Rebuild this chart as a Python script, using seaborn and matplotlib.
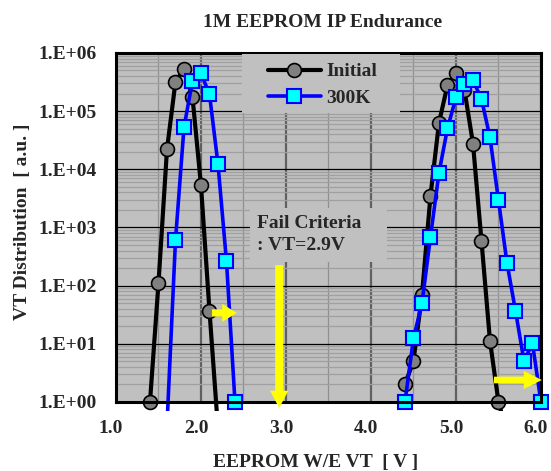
import numpy as np
import pandas as pd
import matplotlib
matplotlib.use("Agg")
import matplotlib.pyplot as plt
import matplotlib.transforms as mtransforms
import seaborn as sns
from matplotlib.patches import Rectangle
from matplotlib.ticker import FixedLocator, LogLocator, FuncFormatter, NullFormatter, MultipleLocator

# ---------------- data ----------------
init_left_vt = [1.4, 1.5, 1.6, 1.7, 1.8, 1.9, 2.0, 2.1, 2.2]
init_left_cnt = [1.0, 110, 22000, 320000, 530000, 175000, 5300, 37, 0.35]
init_right_vt = [4.4, 4.5, 4.6, 4.7, 4.8, 4.9, 5.0, 5.1, 5.2, 5.3, 5.4, 5.5, 5.6]
init_right_cnt = [2.0, 5.1, 69, 3500, 63000, 280000, 460000, 230000, 27700, 590, 11.3, 1.0, 0.3]

k300_left_vt = [1.6, 1.7, 1.8, 1.9, 2.0, 2.1, 2.2, 2.3, 2.4]
k300_left_cnt = [0.4, 605, 52500, 332000, 446000, 196000, 12300, 262, 1.0]
k300_right_vt = [4.4, 4.5, 4.6, 4.7, 4.8, 4.9, 5.0, 5.1, 5.2, 5.3, 5.4, 5.5, 5.6, 5.7, 5.8, 5.9, 6.0]
k300_right_cnt = [1.0, 12.4, 50, 690, 8700, 50500, 172000, 290000, 340000, 162000, 35400,
                  2950, 247, 37, 5.1, 10.2, 1.0]

series_names = ["Initial", "300K"]
x_ticks = [1.0, 2.0, 3.0, 4.0, 5.0, 6.0]
y_ticks = [1e0, 1e1, 1e2, 1e3, 1e4, 1e5, 1e6]

title = "1M EEPROM IP Endurance"
xlabel = "EEPROM W/E VT  [ V ]"
ylabel = "VT Distribution  [ a.u. ]"
note_text = "Fail Criteria\n: VT=2.9V"
fail_vt = 2.92

# ---------------- build tables ----------------
def make_df(lv, lc, rv, rc):
    return pd.concat([
        pd.DataFrame({"vt": lv, "cnt": lc, "peak": "erase"}),
        pd.DataFrame({"vt": rv, "cnt": rc, "peak": "program"}),
    ], ignore_index=True)

df_init = make_df(init_left_vt, init_left_cnt, init_right_vt, init_right_cnt)
df_300k = make_df(k300_left_vt, k300_left_cnt, k300_right_vt, k300_right_cnt)

# ---------------- style ----------------
sns.set_style("white")
plt.rcParams["font.family"] = ["Liberation Serif", "DejaVu Serif"]
plt.rcParams["font.weight"] = "bold"
plt.rcParams["axes.labelweight"] = "bold"
plt.rcParams["axes.titleweight"] = "bold"

BG = "#C0C0C0"
fig = plt.figure(figsize=(5.51, 4.71), dpi=100)
ax = fig.add_axes([0.2105, 0.1465, 0.7713, 0.741])
ax.set_facecolor(BG)
ax.set_yscale("log")

sns.lineplot(data=df_init, x="vt", y="cnt", units="peak", estimator=None, sort=False,
             color="black", lw=3, marker="o", markersize=10,
             markerfacecolor="#808080", markeredgecolor="black", markeredgewidth=1.2,
             label=series_names[0], legend=False, ax=ax)
sns.lineplot(data=df_300k, x="vt", y="cnt", units="peak", estimator=None, sort=False,
             color="#0000FF", lw=2.6, marker="s", markersize=10,
             markerfacecolor="#00FFFF", markeredgecolor="#0000FF", markeredgewidth=1.5,
             label=series_names[1], legend=False, ax=ax)

# clip lines a little outside the plot area (markers on the edge stay whole)
clip_rect = Rectangle((-0.0235, -0.026), 1.047, 1.052, transform=ax.transAxes)
for ln in ax.lines:
    ln.set_clip_path(clip_rect)

ax.set_xlim(1.0, 6.0)
ax.set_ylim(1.0, 1e6)

ax.xaxis.set_major_locator(FixedLocator(x_ticks))
ax.xaxis.set_minor_locator(MultipleLocator(0.5))
ax.xaxis.set_major_formatter(FuncFormatter(lambda v, p: f"{v:.1f}"))
ax.yaxis.set_major_locator(FixedLocator(y_ticks))
ax.yaxis.set_minor_locator(LogLocator(base=10, subs=np.arange(2, 10)))
ax.yaxis.set_minor_formatter(NullFormatter())
ax.yaxis.set_major_formatter(FuncFormatter(lambda v, p: f"1.E+{int(round(np.log10(v))):02d}"))

ax.set_axisbelow(True)
ax.grid(which="major", axis="y", color="black", lw=0.9)
ax.grid(which="minor", axis="y", color="#A0A0A0", lw=0.9)
ax.grid(which="major", axis="x", color="#606060", lw=1.6)
ax.grid(which="minor", axis="x", color="#909090", lw=0.9)

ax.tick_params(axis="both", which="both", length=0, labelsize=14)
ax.tick_params(axis="y", pad=14)
ax.tick_params(axis="x", pad=13)
for s in ax.spines.values():
    s.set_color("black")
    s.set_linewidth(2.2)
    s.set_zorder(4)

# shift x tick labels slightly left, as in the reference
shift = mtransforms.ScaledTranslation(-3.6 / 72, 0, fig.dpi_scale_trans)
for lbl in ax.get_xticklabels():
    lbl.set_transform(lbl.get_transform() + shift)

ax.set_xlabel(xlabel, fontsize=14)
ax.set_ylabel(ylabel, fontsize=14)
ax.xaxis.set_label_coords(0.47, -0.148)
ax.yaxis.set_label_coords(-0.2, 0.516)
ax.set_title(title, fontsize=14, x=0.487, y=1.074, pad=0)

# legend (background panel + frameless legend)
ax.add_patch(Rectangle((0.296, 0.828), 0.372, 0.169, transform=ax.transAxes,
                       facecolor=BG, edgecolor="none", zorder=5))
handles, labels = ax.get_legend_handles_labels()
seen = {}
for h, l in zip(handles, labels):
    if l not in seen:
        seen[l] = h
leg = ax.legend(list(seen.values()), list(seen.keys()), loc="upper left",
                bbox_to_anchor=(0.358, 0.972), borderaxespad=0, frameon=False,
                fontsize=14, handlelength=2.7, handletextpad=0.3,
                labelspacing=0.45, borderpad=0, numpoints=1)
leg.set_zorder(6)

# note box
ax.add_patch(Rectangle((0.315, 0.401), 0.322, 0.155, transform=ax.transAxes,
                       facecolor=BG, edgecolor="none", zorder=3))
ax.text(0.332, 0.537, note_text, transform=ax.transAxes, fontsize=14,
        ha="left", va="top", linespacing=1.4, zorder=4)

# yellow arrows
arrow_kw = dict(fc="#FFFF00", ec="none", mutation_scale=20, shrinkA=0, shrinkB=0)
ax.annotate("", xy=(fail_vt, 0.79), xytext=(fail_vt, 225), annotation_clip=False,
            arrowprops=dict(arrowstyle="simple,head_length=0.62,head_width=0.66,tail_width=0.29",
                            **arrow_kw), zorder=7)
ax.annotate("", xy=(2.42, 34), xytext=(2.13, 34), annotation_clip=False,
            arrowprops=dict(arrowstyle="simple,head_length=0.52,head_width=0.65,tail_width=0.26",
                            **arrow_kw), zorder=7)
ax.annotate("", xy=(6.01, 2.39), xytext=(5.447, 2.39), annotation_clip=False,
            arrowprops=dict(arrowstyle="simple,head_length=0.65,head_width=0.65,tail_width=0.24",
                            **arrow_kw), zorder=7)

fig.savefig("out.png", dpi=100)
